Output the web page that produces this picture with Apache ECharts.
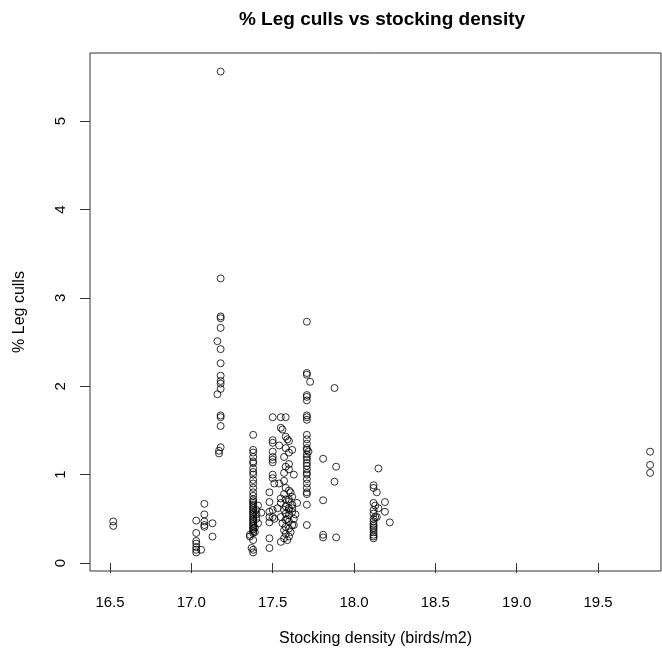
<!DOCTYPE html>
<html>
<head>
<meta charset="utf-8">
<title>% Leg culls vs stocking density</title>
<script src="https://cdn.jsdelivr.net/npm/echarts@6/dist/echarts.min.js"></script>
<style>
  html, body { margin: 0; padding: 0; background: #ffffff; }
  #chart { width: 662px; height: 656px; }
</style>
</head>
<body>
<div id="chart"></div>
<script>
// Flock records: stocking density (birds/m2) and % leg culls, one entry per flock.
const density = [
  // 16.5
  16.52, 16.52,
  // ~17.0-17.1
  17.08, 17.08, 17.03, 17.08, 17.08, 17.13, 17.08, 17.03, 17.13, 17.03, 17.03, 17.03, 17.03, 17.03, 17.06,
  // ~17.18
  17.18, 17.18, 17.18, 17.18, 17.18, 17.16, 17.18, 17.18, 17.18, 17.18, 17.18, 17.18, 17.16, 17.18, 17.18, 17.18, 17.18, 17.17, 17.17,
  // ~17.38
  17.38, 17.38, 17.38, 17.38, 17.38, 17.38, 17.38, 17.38, 17.38, 17.38, 17.38, 17.38, 17.38, 17.38, 17.38,
  17.38, 17.38, 17.38, 17.38, 17.38, 17.38, 17.38, 17.38, 17.38, 17.38, 17.38, 17.38, 17.38, 17.38, 17.38,
  17.38, 17.38, 17.38, 17.38, 17.36, 17.36, 17.38, 17.37, 17.38, 17.38,
  17.40, 17.40, 17.40, 17.41, 17.41, 17.43, 17.39, 17.39,
  // ~17.5
  17.50, 17.50, 17.50, 17.50, 17.50, 17.50, 17.50, 17.54, 17.48, 17.48, 17.48, 17.48, 17.48, 17.48, 17.48,
  17.50, 17.50, 17.51, 17.50, 17.50, 17.51,
  // ~17.55-17.65
  17.55, 17.58, 17.55, 17.56, 17.58, 17.58, 17.62, 17.57, 17.58, 17.57, 17.59, 17.60, 17.60, 17.60, 17.60,
  17.63, 17.58, 17.60, 17.57, 17.62, 17.58, 17.60, 17.55, 17.62, 17.58, 17.60, 17.57, 17.62, 17.58, 17.60,
  17.55, 17.63, 17.58, 17.60, 17.56, 17.62, 17.58, 17.60, 17.57, 17.61, 17.58, 17.60, 17.57, 17.55, 17.59,
  17.63, 17.64, 17.54, 17.55, 17.53, 17.65, 17.61, 17.57, 17.60, 17.59, 17.62, 17.60,
  // ~17.71
  17.71, 17.71, 17.71, 17.73, 17.71, 17.71, 17.71, 17.71, 17.71, 17.71, 17.71, 17.71, 17.71, 17.71, 17.71,
  17.72, 17.71, 17.71, 17.71, 17.71, 17.71, 17.71, 17.71, 17.71, 17.71, 17.71, 17.71, 17.71, 17.71, 17.71, 17.71,
  // ~17.8-17.9
  17.81, 17.81, 17.81, 17.81, 17.88, 17.89, 17.88, 17.89,
  // ~18.1-18.2
  18.15, 18.12, 18.12, 18.14, 18.12, 18.13, 18.12, 18.12, 18.13, 18.12, 18.12, 18.12, 18.12, 18.12, 18.12,
  18.12, 18.12, 18.12, 18.12, 18.19, 18.19, 18.22, 18.14, 18.15,
  // ~19.8
  19.82, 19.82, 19.82
];

const legCulls = [
  0.47, 0.42,
  0.67, 0.55, 0.48, 0.47, 0.43, 0.45, 0.41, 0.34, 0.30, 0.25, 0.22, 0.18, 0.15, 0.12, 0.15,
  5.56, 3.22, 2.79, 2.77, 2.66, 2.51, 2.42, 2.26, 2.12, 2.06, 2.03, 1.97, 1.91, 1.67, 1.65, 1.55, 1.31, 1.27, 1.24,
  1.45, 1.28, 1.25, 1.20, 1.15, 1.13, 1.07, 1.03, 1.00, 0.94, 0.90, 0.85, 0.80, 0.76, 0.72,
  0.70, 0.68, 0.66, 0.64, 0.62, 0.60, 0.58, 0.56, 0.54, 0.52, 0.50, 0.48, 0.46, 0.44, 0.42,
  0.40, 0.38, 0.36, 0.34, 0.32, 0.30, 0.26, 0.17, 0.15, 0.12,
  0.60, 0.55, 0.50, 0.45, 0.65, 0.57, 0.40, 0.35,
  1.65, 1.39, 1.36, 1.26, 1.20, 1.17, 1.14, 1.33, 0.80, 0.69, 0.58, 0.52, 0.46, 0.28, 0.17,
  1.00, 0.96, 0.90, 0.60, 0.52, 0.50,
  1.65, 1.65, 1.53, 1.51, 1.43, 1.30, 1.28, 1.20, 1.09, 1.02, 1.40, 1.38, 1.25, 1.12, 1.06,
  1.00, 0.85, 0.82, 0.78, 0.75, 0.72, 0.70, 0.68, 0.66, 0.64, 0.62, 0.60, 0.58, 0.56, 0.54,
  0.52, 0.50, 0.49, 0.47, 0.45, 0.43, 0.41, 0.39, 0.37, 0.35, 0.33, 0.30, 0.28, 0.24, 0.26,
  0.43, 0.55, 0.90, 0.73, 0.62, 0.68, 0.80, 0.93, 0.60, 0.50, 0.62, 0.72,
  2.73, 2.15, 2.13, 2.05, 1.90, 1.88, 1.84, 1.67, 1.65, 1.62, 1.45, 1.40, 1.35, 1.30, 1.28,
  1.26, 1.23, 1.20, 1.17, 1.13, 1.10, 1.06, 1.02, 1.00, 0.95, 0.90, 0.85, 0.80, 0.78, 0.66, 0.43,
  1.18, 0.71, 0.32, 0.29, 1.98, 1.09, 0.92, 0.29,
  1.07, 0.88, 0.85, 0.80, 0.68, 0.65, 0.60, 0.56, 0.52, 0.50, 0.47, 0.44, 0.42, 0.40, 0.38,
  0.35, 0.32, 0.30, 0.28, 0.69, 0.58, 0.46, 0.52, 0.62,
  1.26, 1.11, 1.02
];

const xTicks = [16.5, 17.0, 17.5, 18.0, 18.5, 19.0, 19.5];
const yTicks = [0, 1, 2, 3, 4, 5];

const points = density.map((d, i) => [d, legCulls[i]]);

const FONT = '"Liberation Sans", Arial, sans-serif';
const chart = echarts.init(document.getElementById('chart'), null, { renderer: 'canvas' });

chart.setOption({
  backgroundColor: '#ffffff',
  animation: false,
  title: {
    text: '% Leg culls vs stocking density',
    left: 377,
    top: 5,
    textAlign: 'center',
    textStyle: { fontFamily: FONT, fontSize: 19, fontWeight: 'bold', color: '#000' }
  },
  grid: {
    left: 90, right: 1, top: 53, bottom: 85,
    show: true, borderColor: '#333', borderWidth: 1, backgroundColor: 'transparent'
  },
  xAxis: {
    type: 'value',
    min: 16.377, max: 19.887,
    name: 'Stocking density (birds/m2)',
    nameLocation: 'middle',
    nameGap: 60,
    nameTextStyle: { fontFamily: FONT, fontSize: 16, color: '#000' },
    splitLine: { show: false },
    axisLine: { show: false },
    axisTick: { show: true, length: 10, lineStyle: { color: '#333' }, customValues: xTicks },
    axisLabel: {
      fontFamily: FONT, fontSize: 15, color: '#000', margin: 24,
      customValues: xTicks,
      formatter: v => v.toFixed(1)
    }
  },
  yAxis: {
    type: 'value',
    min: -0.09, max: 5.77,
    name: '% Leg culls',
    nameLocation: 'middle',
    nameGap: 62,
    nameRotate: 90,
    nameTextStyle: { fontFamily: FONT, fontSize: 16, color: '#000' },
    splitLine: { show: false },
    axisLine: { show: false },
    axisTick: { show: true, length: 10, lineStyle: { color: '#333' }, customValues: yTicks },
    axisLabel: {
      fontFamily: FONT, fontSize: 15, color: '#000', margin: 22, rotate: 90,
      customValues: yTicks
    }
  },
  series: [{
    type: 'scatter',
    data: points,
    symbol: 'circle',
    symbolSize: 7,
    itemStyle: { color: 'transparent', borderColor: '#000', borderWidth: 1 },
    emphasis: { disabled: true }
  }]
});
</script>
</body>
</html>
